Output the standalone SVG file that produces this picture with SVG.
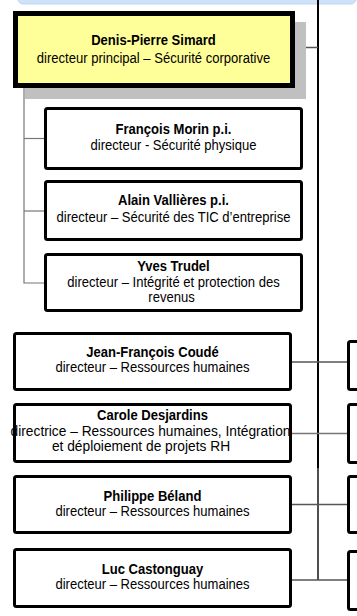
<svg xmlns="http://www.w3.org/2000/svg" width="357" height="616" viewBox="0 0 357 616">
  <style>
    text { font-family: "Liberation Sans", Arial, sans-serif; font-size: 14.5px; fill: #000; text-anchor: middle; }
    .name { font-weight: bold; }
    .box { fill: #fff; stroke: #000; stroke-width: 3; }
    .lead { fill: #ffff99; stroke: #000; stroke-width: 5; }
    .shadow { fill: #c0c0c0; }
    .link { fill: none; stroke: #555; stroke-width: 1.5; }
    .branch { fill: none; stroke: #777; stroke-width: 1.2; }
    .spine { fill: none; stroke: #000; stroke-width: 2; }
  </style>

  <!-- header band -->
  <rect x="18" y="-10" width="338" height="14" rx="5" fill="#cfe2fa" stroke="#bcd6f5" stroke-width="1"/>

  <!-- connectors -->
  <g id="connectors">
    <line class="spine" x1="318" y1="0" x2="318" y2="468"/>
    <line class="spine" x1="318" y1="468" x2="318" y2="580" style="stroke:#222;stroke-width:1.6"/>
    <line class="link" x1="295" y1="47.5" x2="318" y2="47.5"/>
    <polyline class="branch" points="24,88 24,283 44,283"/>
    <line class="branch" x1="24" y1="138.5" x2="44" y2="138.5"/>
    <line class="branch" x1="24" y1="211" x2="44" y2="211"/>
    <line class="link" x1="292" y1="362" x2="347" y2="362"/>
    <line class="link" x1="292" y1="433.5" x2="347" y2="433.5" style="stroke:#777"/>
    <line class="link" x1="292" y1="504.5" x2="347" y2="504.5"/>
    <line class="link" x1="292" y1="580" x2="347" y2="580"/>
  </g>

  <!-- text is set slightly condensed: scale(0.9 1) -->
  <g id="simard">
    <rect class="shadow" x="25" y="22" width="281" height="77"/>
    <rect class="lead" x="15.5" y="13.5" width="277" height="72"/>
    <text class="name" transform="translate(153.5 45) scale(0.9 1)">Denis-Pierre Simard</text>
    <text transform="translate(153.5 63) scale(0.9 1)">directeur principal – Sécurité corporative</text>
  </g>

  <g id="morin">
    <rect class="box" x="45.5" y="108.5" width="256" height="60" rx="2"/>
    <text class="name" transform="translate(173.5 134) scale(0.9 1)">François Morin p.i.</text>
    <text transform="translate(173.5 150) scale(0.9 1)">directeur - Sécurité physique</text>
  </g>

  <g id="vallieres">
    <rect class="box" x="45.5" y="181.5" width="256" height="58" rx="2"/>
    <text class="name" transform="translate(173.5 205) scale(0.9 1)">Alain Vallières p.i.</text>
    <text transform="translate(173.5 222) scale(0.9 1)">directeur – Sécurité des TIC d’entreprise</text>
  </g>

  <g id="trudel">
    <rect class="box" x="45.5" y="254.5" width="256" height="56" rx="2"/>
    <text class="name" transform="translate(173.5 271) scale(0.9 1)">Yves Trudel</text>
    <text transform="translate(173.5 287) scale(0.9 1)">directeur – Intégrité et protection des</text>
    <text transform="translate(171.5 302) scale(0.9 1)">revenus</text>
  </g>

  <g id="coude">
    <rect class="box" x="14.5" y="333.5" width="276" height="56" rx="2"/>
    <text class="name" transform="translate(152.5 356.5) scale(0.9 1)">Jean-François Coudé</text>
    <text transform="translate(152.5 371.5) scale(0.9 1)">directeur – Ressources humaines</text>
  </g>

  <g id="desjardins">
    <rect class="box" x="14.5" y="404.5" width="276" height="57" rx="2"/>
    <text class="name" transform="translate(152.5 420) scale(0.9 1)">Carole Desjardins</text>
    <text transform="translate(150.5 435.5) scale(0.95 1)">directrice – Ressources humaines, Intégration</text>
    <text transform="translate(141 451) scale(0.95 1)">et déploiement de projets RH</text>
  </g>

  <g id="beland">
    <rect class="box" x="14.5" y="476.5" width="276" height="56" rx="2"/>
    <text class="name" transform="translate(152.5 500.5) scale(0.9 1)">Philippe Béland</text>
    <text transform="translate(152.5 516) scale(0.9 1)">directeur – Ressources humaines</text>
  </g>

  <g id="castonguay">
    <rect class="box" x="14.5" y="549.5" width="276" height="57" rx="2"/>
    <text class="name" transform="translate(152.5 573.5) scale(0.9 1)">Luc Castonguay</text>
    <text transform="translate(152.5 589) scale(0.9 1)">directeur – Ressources humaines</text>
  </g>

  <!-- boxes at the right edge, cut off by the frame -->
  <g id="right-1"><rect class="box" x="348.5" y="341.5" width="60" height="48" rx="2"/></g>
  <g id="right-2"><rect class="box" x="348.5" y="404.5" width="60" height="58" rx="2"/></g>
  <g id="right-3"><rect class="box" x="348.5" y="476.5" width="60" height="56" rx="2"/></g>
  <g id="right-4"><rect class="box" x="348.5" y="551.5" width="60" height="58" rx="2"/></g>
</svg>
